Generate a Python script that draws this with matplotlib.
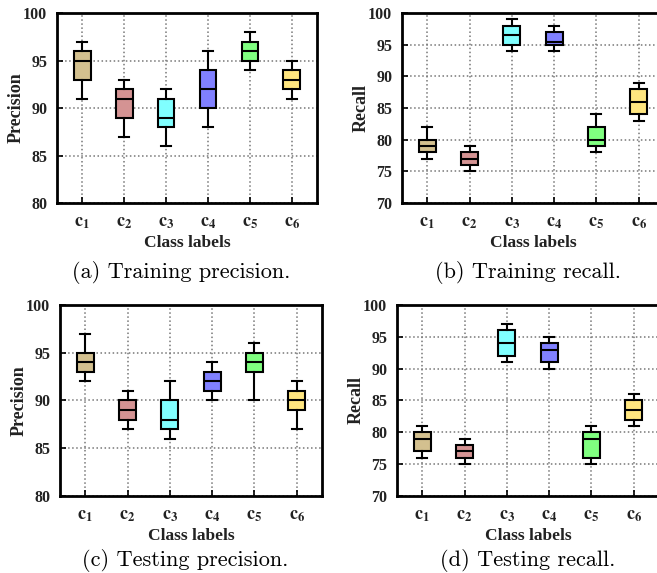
import matplotlib
matplotlib.use("Agg")
import matplotlib.pyplot as plt

# five-number summaries per class: whisker low, Q1, median, Q3, whisker high
classes = ["1", "2", "3", "4", "5", "6"]
colors = ["#d3c08f", "#d49393", "#80ffff", "#8080ff", "#80ff80", "#ffe680"]

train_prec_lo = [91, 87, 86, 88, 94, 91]
train_prec_q1 = [93, 89, 88, 90, 95, 92]
train_prec_med = [95, 91, 89, 92, 96, 93]
train_prec_q3 = [96, 92, 91, 94, 97, 94]
train_prec_hi = [97, 93, 92, 96, 98, 95]

train_rec_lo = [77, 75, 94, 94, 78, 83]
train_rec_q1 = [78, 76, 95, 95, 79, 84]
train_rec_med = [79, 77, 96.5, 95.5, 80, 86]
train_rec_q3 = [80, 78, 98, 97, 82, 88]
train_rec_hi = [82, 79, 99, 98, 84, 89]

test_prec_lo = [92, 87, 86, 90, 90, 87]
test_prec_q1 = [93, 88, 87, 91, 93, 89]
test_prec_med = [94, 89, 88, 92, 94, 90]
test_prec_q3 = [95, 90, 90, 93, 95, 91]
test_prec_hi = [97, 91, 92, 94, 96, 92]

test_rec_lo = [76, 75, 91, 90, 75, 81]
test_rec_q1 = [77, 76, 92, 91, 76, 82]
test_rec_med = [79, 77, 94, 93, 79, 83.5]
test_rec_q3 = [80, 78, 96, 94, 80, 85]
test_rec_hi = [81, 79, 97, 95, 81, 86]

plt.rcParams["mathtext.fontset"] = "stix"
plt.rcParams["font.family"] = ["Liberation Serif", "DejaVu Serif"]
plt.rcParams["font.weight"] = "bold"
TXT = "#222222"


def draw_panel(ax, lo, q1, med, q3, hi, ylabel, ylim):
    stats = []
    for i in range(len(classes)):
        stats.append({"whislo": lo[i], "q1": q1[i], "med": med[i],
                      "q3": q3[i], "whishi": hi[i], "fliers": []})
    pos = list(range(1, len(classes) + 1))
    bp = ax.bxp(stats, positions=pos, widths=0.4, capwidths=0.24,
                patch_artist=True, showfliers=False,
                boxprops=dict(edgecolor="black", linewidth=1.5),
                medianprops=dict(color="black", linewidth=1.5),
                whiskerprops=dict(color="black", linewidth=1.5),
                capprops=dict(color="black", linewidth=1.5))
    for patch, c in zip(bp["boxes"], colors):
        patch.set_facecolor(c)
    ax.set_xlim(0.4, 6.6)
    ax.set_ylim(*ylim)
    yt = list(range(ylim[0], ylim[1] + 1, 5))
    ax.set_yticks(yt)
    ax.set_yticklabels([str(v) for v in yt], fontsize=11.5, fontweight="bold", color=TXT)
    ax.set_xticks(pos)
    ax.set_xticklabels([r"$\mathbf{c}_\mathbf{%s}$" % c for c in classes],
                       fontsize=13, color=TXT)
    ax.tick_params(axis="y", pad=7)
    ax.tick_params(axis="x", pad=8)
    ax.tick_params(direction="in", length=4, width=1.2, top=False, right=False)
    ax.grid(True, linestyle=":", color="#777777", linewidth=1.1)
    ax.set_axisbelow(True)
    for s in ax.spines.values():
        s.set_linewidth(2)
    ax.set_ylabel(ylabel, fontsize=13, fontweight="bold", color=TXT, labelpad=-1)
    ax.set_xlabel("Class labels", fontsize=12.5, fontweight="bold", color=TXT, labelpad=3)


fig = plt.figure(figsize=(6.57, 5.73), dpi=100)
ax_a = fig.add_axes([0.0868, 0.6457, 0.3957, 0.3316])
ax_b = fig.add_axes([0.6119, 0.6457, 0.3988, 0.3316])
ax_c = fig.add_axes([0.0913, 0.1344, 0.3988, 0.3333])
ax_d = fig.add_axes([0.6043, 0.1344, 0.3988, 0.3333])

draw_panel(ax_a, train_prec_lo, train_prec_q1, train_prec_med, train_prec_q3, train_prec_hi,
           "Precision", (80, 100))
draw_panel(ax_b, train_rec_lo, train_rec_q1, train_rec_med, train_rec_q3, train_rec_hi,
           "Recall", (70, 100))
draw_panel(ax_c, test_prec_lo, test_prec_q1, test_prec_med, test_prec_q3, test_prec_hi,
           "Precision", (80, 100))
draw_panel(ax_d, test_rec_lo, test_rec_q1, test_rec_med, test_rec_q3, test_rec_hi,
           "Recall", (70, 100))

cap = dict(fontsize=16, family="cmr10", fontweight="normal", ha="center", va="center", color="black")
fig.text(181 / 657, 1 - 272 / 573, "(a) Training precision.", **cap)
fig.text(528 / 657, 1 - 272 / 573, "(b) Training recall.", **cap)
fig.text(185 / 657, 1 - 560 / 573, "(c) Testing precision.", **cap)
fig.text(528 / 657, 1 - 560 / 573, "(d) Testing recall.", **cap)

fig.savefig("out.png", dpi=100)
